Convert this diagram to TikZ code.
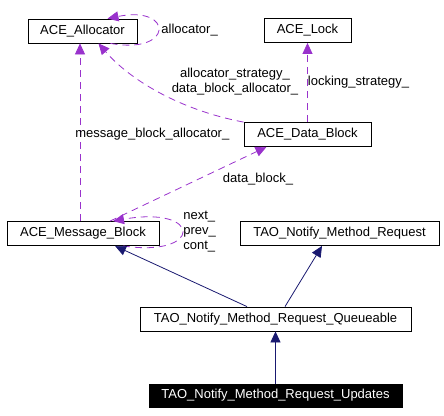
\documentclass[tikz,border=0pt]{standalone}
\usepackage{fontspec}
\setmainfont{Liberation Sans}
\usetikzlibrary{calc,arrows.meta}
\definecolor{usecolor}{RGB}{153,50,204}
\definecolor{inhcolor}{RGB}{25,25,112}
\tikzset{
  % Two node styles for the classes: plain and highlighted
  class node/.style={rectangle,draw,inner sep=0,minimum height=24},
  this node/.style={class node,fill=black,text=white,minimum height=23},
  % Two edge styles: usage (dashed) and inheritance (solid)
  use edge/.style={draw=usecolor,dash pattern=on 7pt off 5pt,-{Triangle[length=11pt,width=10pt]}},
  inh edge/.style={draw=inhcolor,-{Triangle[length=11pt,width=10pt]}}
}

\begin{document}
\begin{tikzpicture}[x=1pt,y=-1pt,font=\fontsize{13}{15}\selectfont,line width=0.8pt]
  \useasboundingbox (0,0) rectangle (444,415);
  % The classes
  \node(alloc)[class node,minimum width=109] at (82.5,31) {ACE\_Allocator};
  \node(lock)[class node,minimum width=87] at (307.5,30.5) {ACE\_Lock};
  \node(datab)[class node,minimum width=127] at (307.5,134.5) {ACE\_Data\_Block};
  \node(msgb)[class node,minimum width=152] at (83,233.5) {ACE\_Message\_Block};
  \node(mreq)[class node,minimum width=199] at (339.5,233.5) {TAO\_Notify\_Method\_Request};
  \node(queue)[class node,minimum width=271] at (275.5,319) {TAO\_Notify\_Method\_Request\_Queueable};
  \node(upd)[this node,minimum width=253] at (275.5,395.5) {TAO\_Notify\_Method\_Request\_Updates};
  % usage relations
  \draw[use edge] ($(alloc.south)+(28,0)$) .. controls (174,55) and (174,5) .. ($(alloc.north)+(25,0)$);
  \node(l1)[anchor=west,inner sep=0] at (161,30) {allocator\_};
  \draw[use edge] (datab.north west) .. controls (180,110) and (130,80) .. ($(alloc.south)+(16,0)$);
  \node(l2)[align=center,inner sep=0] at (235,82) {allocator\_strategy\_\\data\_block\_allocator\_};
  \draw[use edge] (datab) -- node[pos=.5,right,inner sep=0]{locking\_strategy\_} (lock);
  \draw[use edge] ($(msgb.north)+(-3,0)$) -- node[pos=.5,right,inner sep=0,xshift=-5,yshift=-2]{message\_block\_allocator\_} ($(alloc.south)+(-2.5,0)$);
  \draw[use edge] ($(msgb.north)+(27,0)$) -- ($(datab.south)+(-41,0)$);
  \node(l3)[inner sep=0] at (258,179) {data\_block\_};
  \draw[use edge] ($(msgb.south)+(40,0)$) .. controls (203,258) and (203,205) .. ($(msgb.north)+(30,0)$);
  \node(l4)[anchor=west,align=left,inner sep=0] at (183,232) {next\_\\prev\_\\cont\_};
  % inheritance
  \draw[inh edge] ($(queue.north)+(-28.5,0)$) -- ($(msgb.south)+(32,0)$);
  \draw[inh edge] ($(queue.north)+(9.5,0)$) -- ($(mreq.south)+(-17.5,0)$);
  \draw[inh edge] (upd) -- (queue);
\end{tikzpicture}
\end{document}
